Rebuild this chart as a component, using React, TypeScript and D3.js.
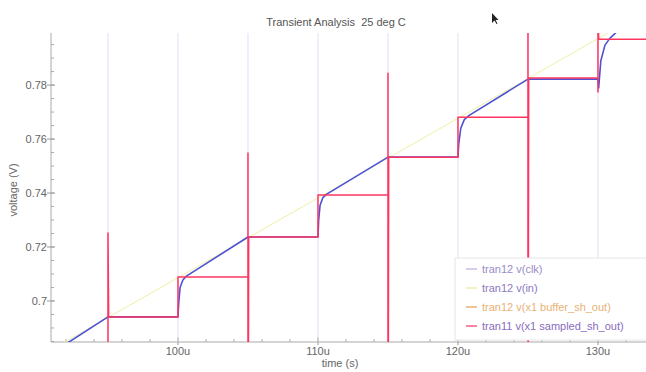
import React, { useEffect, useRef } from 'react';
import * as d3 from 'd3';

// axis ticks (time in microseconds)
const xTicks = [100, 110, 120, 130];
const xTickLabels = ['100u', '110u', '120u', '130u'];
const yTicks = [0.7, 0.72, 0.74, 0.76, 0.78];
const yTickLabels = ['0.7', '0.72', '0.74', '0.76', '0.78'];

// tran12 v(clk) - both levels are off screen, only the edges show
const clkTimes = [90, 95, 95, 100, 100, 105, 105, 110, 110, 115, 115, 120, 120, 125, 125, 130, 130, 135];
const clkValues = [0, 0, 1.8, 1.8, 0, 0, 1.8, 1.8, 0, 0, 1.8, 1.8, 0, 0, 1.8, 1.8, 0, 0];

// tran12 v(in) - input ramp
const inTimes = [90, 135];
const inValues = [0.6791, 0.812];

// tran12 v(x1 buffer_sh_out)
const bufTimes = [90, 95, 100, 100.05, 100.15, 100.35, 100.6, 105, 110, 110.05, 110.15, 110.35, 110.6, 115,
  120, 120.05, 120.2, 120.45, 120.8, 125, 130, 130.05, 130.2, 130.5, 130.86, 131.5];
const bufValues = [0.6774, 0.6941, 0.6941, 0.699, 0.705, 0.7078, 0.7092, 0.7237, 0.7237, 0.730, 0.7355, 0.7383, 0.7395, 0.7533,
  0.7533, 0.758, 0.764, 0.7672, 0.7688, 0.7822, 0.7822, 0.7789, 0.7889, 0.7948, 0.7974, 0.8005];

// tran11 v(x1 sampled_sh_out)
const smpTimes = [90, 95, 95, 95.05, 100, 100, 105, 105, 105, 105.05, 110, 110, 115, 115, 115, 115.05,
  120, 120, 125, 125, 125, 125.05, 130, 130, 130, 130.05, 135];
const smpValues = [0.6, 0.6, 0.7252, 0.6941, 0.6941, 0.7089, 0.7089, 0.7548, 0.6, 0.7237, 0.7237, 0.7393, 0.7393, 0.7844, 0.6, 0.7533,
  0.7533, 0.7681, 0.7681, 0.81, 0.6, 0.7826, 0.7826, 0.7774, 0.81, 0.797, 0.797];

const seriesNames = ['tran12 v(clk)', 'tran12 v(in)', 'tran12 v(x1 buffer_sh_out)', 'tran11 v(x1 sampled_sh_out)'];
const lineColors = ['#e8dcf3', '#eef0a6', '#4b52d4', '#ff3560'];
const legendMarkColors = ['#cdbde9', '#f1eeb0', '#e9b274', '#ff5b83'];
const legendTextColors = ['#9a8cc8', '#8e78c2', '#e8b274', '#8a6cc0'];

const App = () => {
  const svgRef = useRef<SVGSVGElement>(null);

  useEffect(() => {
    const svg = d3.select(svgRef.current);
    svg.selectAll('*').remove();

    const left = 51, right = 646, top = 33, bottom = 342;
    const x = d3.scaleLinear().domain([90.93, 133.43]).range([left, right]);
    const y = d3.scaleLinear().domain([0.6848, 0.7993]).range([bottom, top]);
    const font = 'Liberation Sans, Arial, sans-serif';

    svg.append('rect').attr('width', 646).attr('height', 372).attr('fill', '#fff');

    svg.append('defs').append('clipPath').attr('id', 'plot')
      .append('rect').attr('x', left).attr('y', top).attr('width', right - left).attr('height', bottom - top);

    // title
    svg.append('text')
      .attr('x', 336).attr('y', 26)
      .attr('text-anchor', 'middle')
      .style('font-family', font).style('font-size', '11px').style('white-space', 'pre')
      .attr('fill', '#555')
      .text('Transient Analysis  25 deg C');

    // axes
    const axisColor = '#aaa';
    svg.append('line').attr('x1', left).attr('x2', left).attr('y1', top).attr('y2', bottom)
      .attr('stroke', axisColor);
    svg.append('line').attr('x1', left).attr('x2', right).attr('y1', bottom).attr('y2', bottom)
      .attr('stroke', axisColor);

    // minor ticks
    d3.range(0.685, 0.7993, 0.005).forEach(v => {
      svg.append('line').attr('x1', left).attr('x2', left + 3).attr('y1', y(v)).attr('y2', y(v))
        .attr('stroke', axisColor);
    });
    d3.range(92, 133.4, 2).forEach(t => {
      svg.append('line').attr('x1', x(t)).attr('x2', x(t)).attr('y1', bottom).attr('y2', bottom - 3)
        .attr('stroke', axisColor);
    });

    yTicks.forEach((v, i) => {
      svg.append('line').attr('x1', left - 4).attr('x2', left + 4).attr('y1', y(v)).attr('y2', y(v))
        .attr('stroke', '#999');
      svg.append('text')
        .attr('x', left - 4).attr('y', y(v)).attr('dy', '0.35em')
        .attr('text-anchor', 'end')
        .style('font-family', font).style('font-size', '11px')
        .attr('fill', '#666')
        .text(yTickLabels[i]);
    });

    xTicks.forEach((t, i) => {
      svg.append('line').attr('x1', x(t)).attr('x2', x(t)).attr('y1', bottom + 3).attr('y2', bottom - 5)
        .attr('stroke', '#999');
      svg.append('text')
        .attr('x', x(t)).attr('y', 355)
        .attr('text-anchor', 'middle')
        .style('font-family', font).style('font-size', '11px')
        .attr('fill', '#666')
        .text(xTickLabels[i]);
    });

    svg.append('text')
      .attr('x', 340).attr('y', 367)
      .attr('text-anchor', 'middle')
      .style('font-family', font).style('font-size', '11px')
      .attr('fill', '#666')
      .text('time (s)');

    svg.append('text')
      .attr('transform', 'translate(17,190) rotate(-90)')
      .attr('text-anchor', 'middle')
      .style('font-family', font).style('font-size', '11px')
      .attr('fill', '#666')
      .text('voltage (V)');

    // traces
    const line = d3.line<[number, number]>().x(d => x(d[0])).y(d => y(d[1]));
    const plot = svg.append('g').attr('clip-path', 'url(#plot)');
    const series = [
      { t: clkTimes, v: clkValues, w: 1 },
      { t: inTimes, v: inValues, w: 1 },
      { t: bufTimes, v: bufValues, w: 1.6 },
      { t: smpTimes, v: smpValues, w: 1.5 },
    ];
    series.forEach((s, i) => {
      plot.append('path')
        .datum(s.t.map((t, j) => [t, s.v[j]] as [number, number]))
        .attr('d', line)
        .attr('fill', 'none')
        .attr('stroke', lineColors[i])
        .attr('stroke-width', s.w)
        .attr('stroke-linejoin', 'round');
    });

    // legend
    const lg = svg.append('g').attr('transform', 'translate(455,258)');
    lg.append('rect').attr('x', 0).attr('y', 0).attr('width', 200).attr('height', 82)
      .attr('fill', '#fff').attr('stroke', '#e6e6e6');
    seriesNames.forEach((name, i) => {
      const ly = 11 + i * 19;
      lg.append('line').attr('x1', 11).attr('x2', 22).attr('y1', ly).attr('y2', ly)
        .attr('stroke', legendMarkColors[i]).attr('stroke-width', 1.5);
      lg.append('text')
        .attr('x', 27).attr('y', ly).attr('dy', '0.35em')
        .style('font-family', font).style('font-size', '11px')
        .attr('fill', legendTextColors[i])
        .text(name);
    });

    // mouse pointer in the screenshot
    svg.append('path')
      .attr('d', 'M492,13 L492,23 L494.5,20.5 L496.5,24 L497.5,23.4 L495.6,20 L498.5,20 Z')
      .attr('fill', '#222');
  }, []);

  return (
    <div style={{ position: 'absolute', left: 0, top: 0 }}>
      <svg ref={svgRef} width={646} height={372} style={{ display: 'block' }} />
    </div>
  );
};

export default App;
